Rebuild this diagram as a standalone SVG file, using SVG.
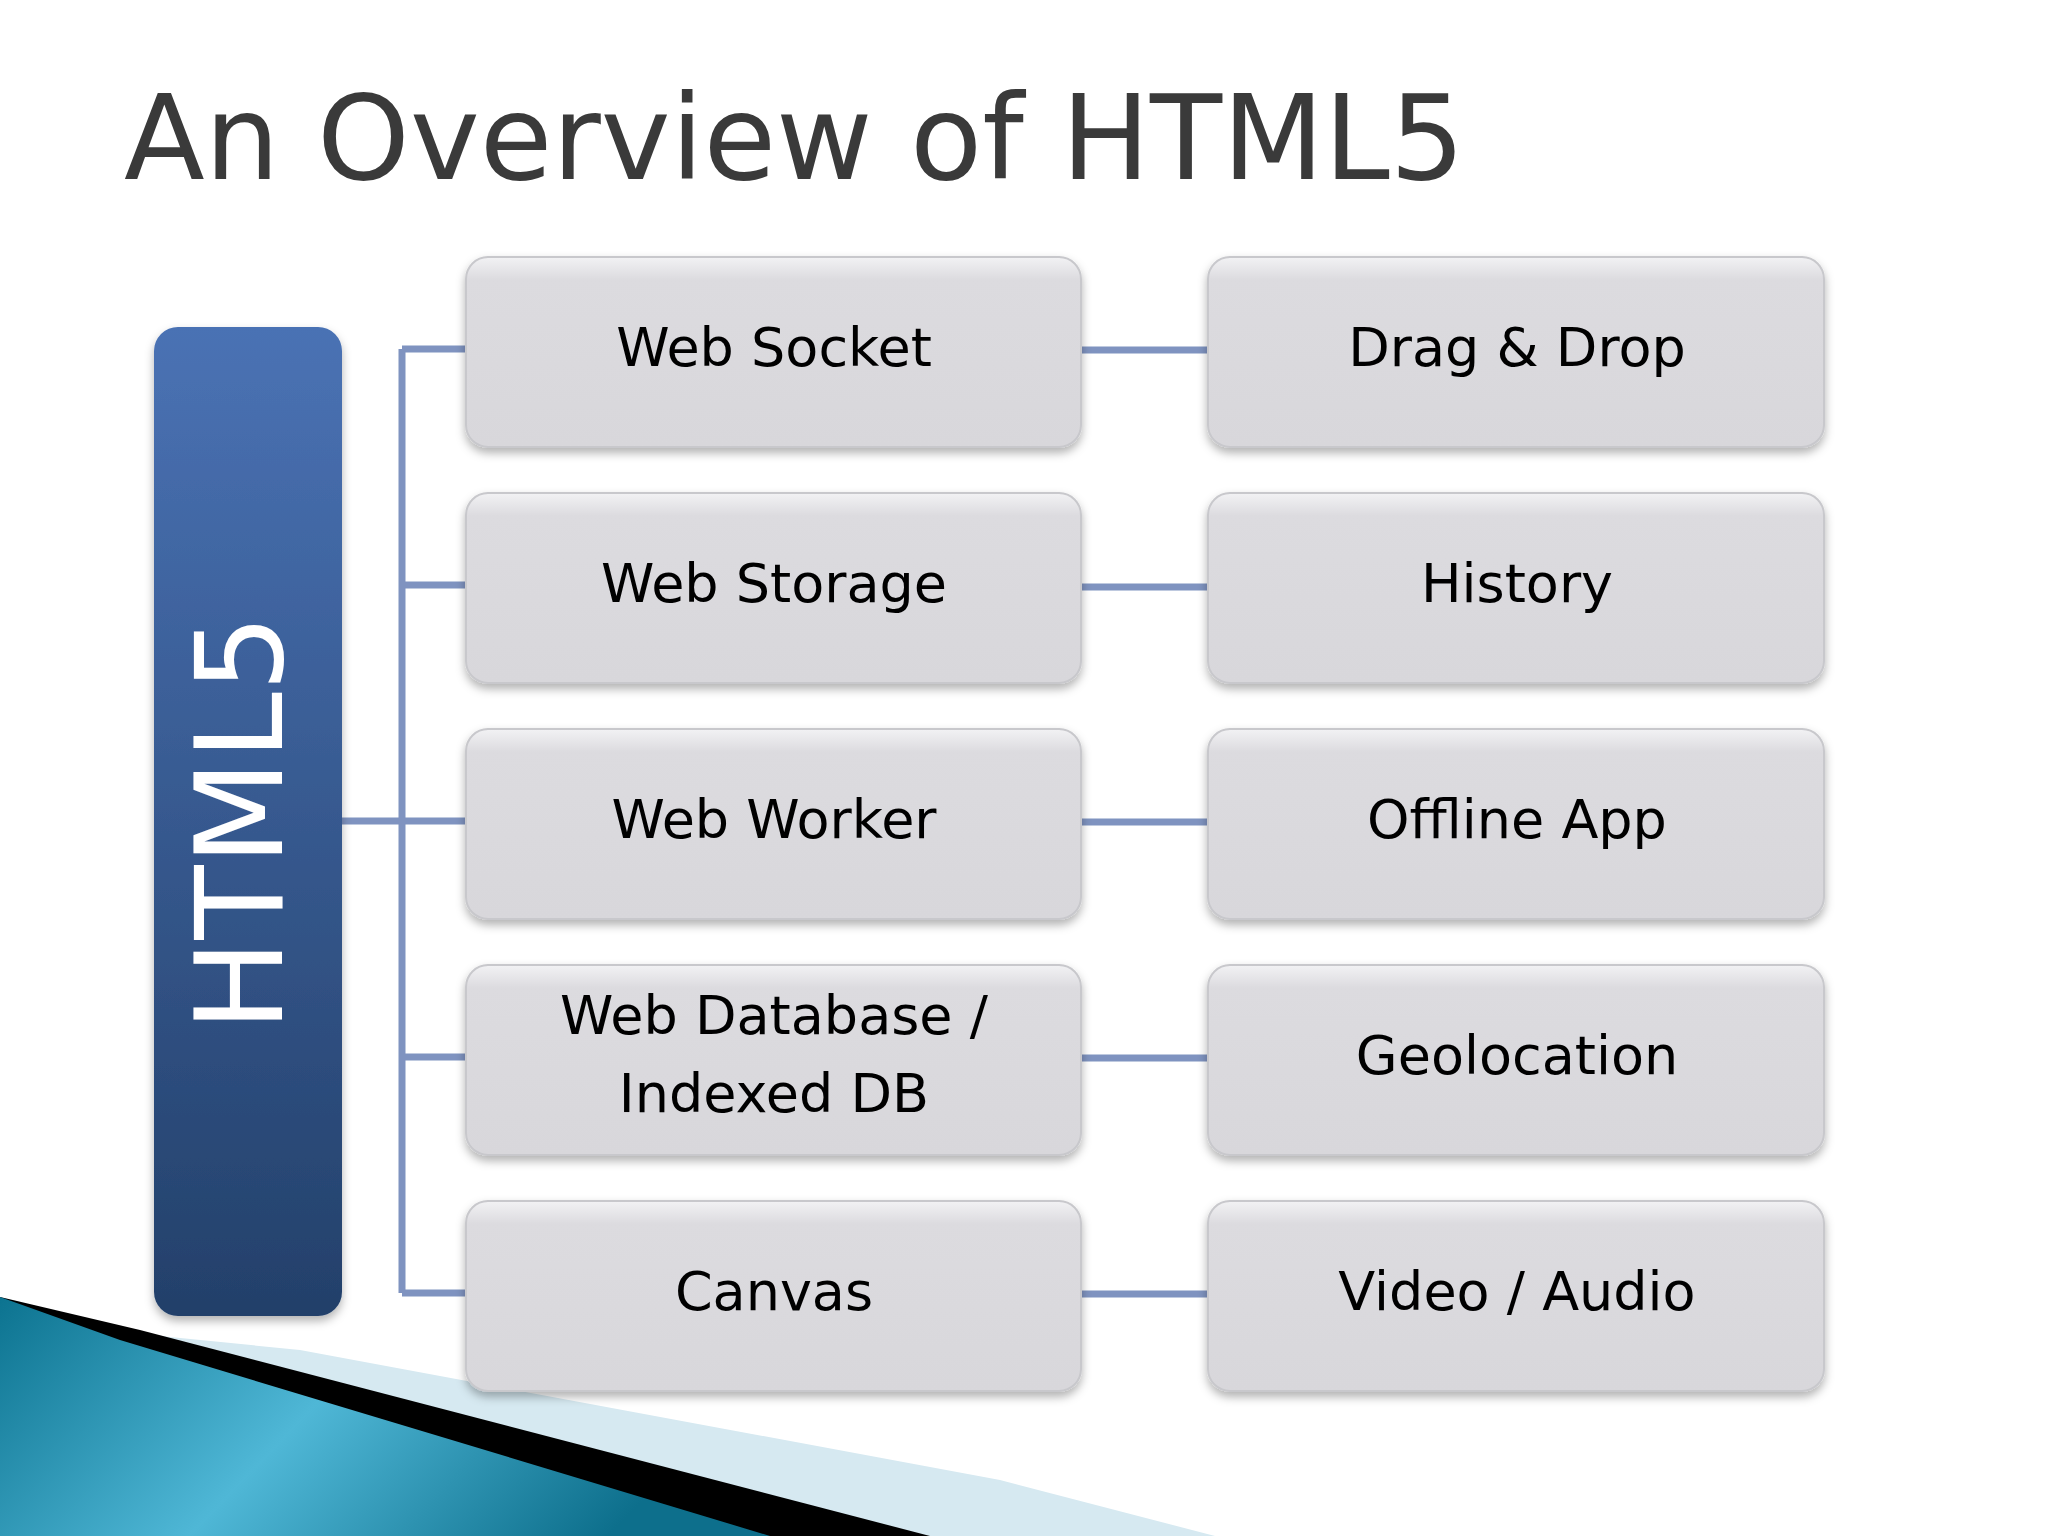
<svg xmlns="http://www.w3.org/2000/svg" width="2048" height="1536" viewBox="0 0 2048 1536">
<defs>
<linearGradient id="bar" x1="0" y1="0" x2="0" y2="1"><stop offset="0" stop-color="#4a72b4"/><stop offset="1" stop-color="#23406a"/></linearGradient>
<linearGradient id="box" x1="0" y1="0" x2="0" y2="1"><stop offset="0" stop-color="#f2f2f4"/><stop offset="0.12" stop-color="#dcdbdf"/><stop offset="1" stop-color="#d8d7db"/></linearGradient>
<linearGradient id="teal" x1="0" y1="0" x2="1" y2="0.3"><stop offset="0" stop-color="#0c7390"/><stop offset="0.5" stop-color="#4fb7d6"/><stop offset="1" stop-color="#0d6f8c"/></linearGradient>
<filter id="sh" x="-10%" y="-10%" width="120%" height="130%"><feDropShadow dx="0" dy="5" stdDeviation="5" flood-color="#000" flood-opacity="0.3"/></filter>
</defs>
<style>
.b{fill:url(#box);stroke:#c8c8cc;stroke-width:2;filter:url(#sh)}
.t{font-family:"DejaVu Sans",sans-serif;font-size:54px;fill:#000;text-anchor:middle}
.c{stroke:#7f93c0;stroke-width:7;fill:none}
</style>
<rect width="2048" height="1536" fill="#fff"/>
<polygon points="0,1297 0,1536 1215,1536 1000,1480 300,1350 150,1335" fill="#d6e9f1"/>
<polygon points="0,1297 0,1536 930,1536 140,1330" fill="#000"/>
<polygon points="0,1297 0,1536 770,1536 120,1340" fill="url(#teal)"/>
<text x="124" y="179" font-family="DejaVu Sans,sans-serif" font-size="118" fill="#3a3a3a">An Overview of HTML5</text>
<g id="connectors" class="c">
<path d="M342,821 H402 M402,349 V1293 M402,349 H466 M402,585 H466 M402,821 H466 M402,1057 H466 M402,1293 H466"/>
<path d="M1081,350 H1208 M1081,587 H1208 M1081,822 H1208 M1081,1058 H1208 M1081,1294 H1208"/>
</g>
<g id="html5"><rect x="154" y="327" width="188" height="989" rx="24" fill="url(#bar)" filter="url(#sh)"/>
<text transform="translate(282,823) rotate(-90)" text-anchor="middle" font-family="DejaVu Sans,sans-serif" font-size="122" fill="#fff">HTML5</text></g>
<g id="n1"><rect class="b" x="466" y="257" width="615" height="190" rx="22"/><text class="t" x="774" y="366">Web Socket</text></g>
<g id="n2"><rect class="b" x="466" y="493" width="615" height="190" rx="22"/><text class="t" x="774" y="602">Web Storage</text></g>
<g id="n3"><rect class="b" x="466" y="729" width="615" height="190" rx="22"/><text class="t" x="774" y="838">Web Worker</text></g>
<g id="n4"><rect class="b" x="466" y="965" width="615" height="190" rx="22"/><text class="t" x="774" y="1034">Web Database /</text><text class="t" x="774" y="1112">Indexed DB</text></g>
<g id="n5"><rect class="b" x="466" y="1201" width="615" height="190" rx="22"/><text class="t" x="774" y="1310">Canvas</text></g>
<g id="n6"><rect class="b" x="1208" y="257" width="616" height="190" rx="22"/><text class="t" x="1517" y="366">Drag &amp; Drop</text></g>
<g id="n7"><rect class="b" x="1208" y="493" width="616" height="190" rx="22"/><text class="t" x="1517" y="602">History</text></g>
<g id="n8"><rect class="b" x="1208" y="729" width="616" height="190" rx="22"/><text class="t" x="1517" y="838">Offline App</text></g>
<g id="n9"><rect class="b" x="1208" y="965" width="616" height="190" rx="22"/><text class="t" x="1517" y="1074">Geolocation</text></g>
<g id="n10"><rect class="b" x="1208" y="1201" width="616" height="190" rx="22"/><text class="t" x="1517" y="1310">Video / Audio</text></g>
</svg>
